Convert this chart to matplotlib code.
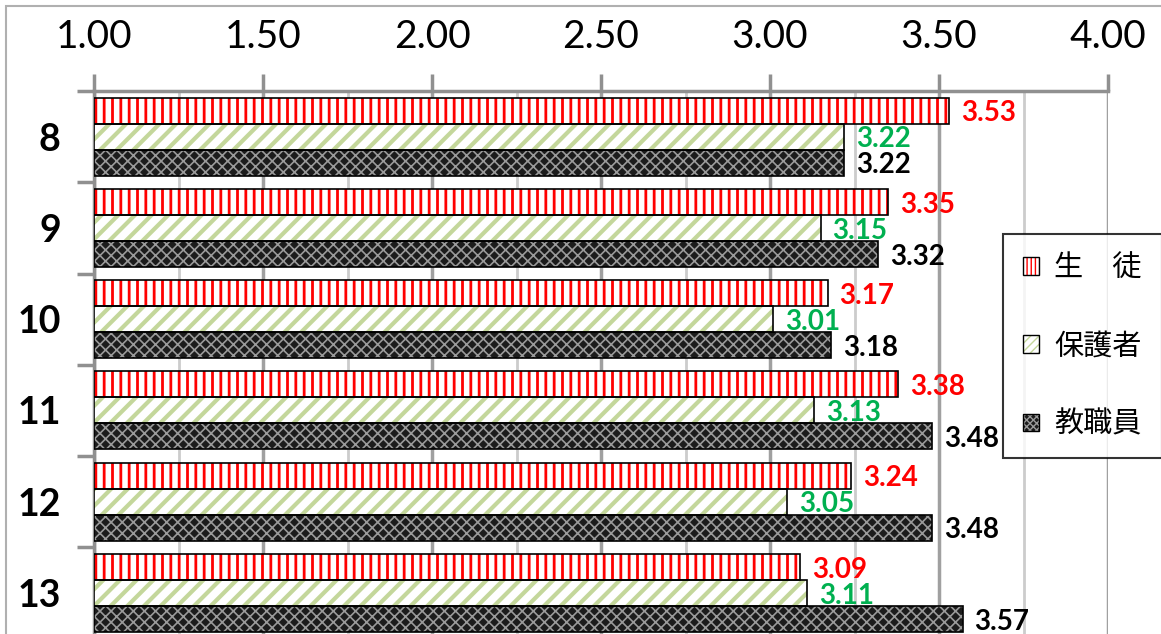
"""Horizontal grouped bar chart: 生徒 / 保護者 / 教職員 scores per item."""

import matplotlib

matplotlib.use("Agg")
import matplotlib.pyplot as plt
import numpy as np
from matplotlib.patches import Patch, Rectangle

plt.rcParams["font.family"] = ["Lato", "Noto Sans CJK JP", "DejaVu Sans"]

categories = ["8", "9", "10", "11", "12", "13"]
students = [3.53, 3.35, 3.17, 3.38, 3.24, 3.09]
parents = [3.22, 3.15, 3.01, 3.13, 3.05, 3.11]
staff = [3.22, 3.32, 3.18, 3.48, 3.48, 3.57]
series_names = ["生\u3000徒", "保護者", "教職員"]

x_min, x_max = 1.0, 4.0
bar_h = 0.285

fig = plt.figure(figsize=(11.61, 6.34), dpi=100)
ax = fig.add_axes([0.081, -0.0073, 0.8734, 0.8638])

# outer chart frame (cropped at the right/bottom)
fig.patches.append(Rectangle((6 / 1161, -0.1), 1.2, 1 - 6 / 634 + 0.1,
                             transform=fig.transFigure, fill=False,
                             edgecolor="#b0b0b0", linewidth=1.5))

y = np.arange(len(categories))
styles = [
    dict(face="white", hatch="||", leg_hatch="||||", hcolor="#ff0000", hlw=2.0,
         label_color="#ff0000"),
    dict(face="white", hatch="//", leg_hatch="////", hcolor="#c4d79b", hlw=3.0,
         label_color="#00b050"),
    dict(face="#1c1c1c", hatch="xxx", leg_hatch="xxxxx", hcolor="#9a9a9a", hlw=1.2,
         label_color="black"),
]
series = [students, parents, staff]

for i, (vals, st) in enumerate(zip(series, styles)):
    pos = y - bar_h + i * bar_h
    left = [x_min] * len(vals)
    widths = [v - x_min for v in vals]
    with plt.rc_context({"hatch.linewidth": st["hlw"]}):
        ax.barh(pos, widths, left=left, height=bar_h, color=st["face"],
                hatch=st["hatch"], edgecolor=st["hcolor"], linewidth=0, zorder=3)
    ax.barh(pos, widths, left=left, height=bar_h, fill=False,
            edgecolor="black", linewidth=1.2, zorder=4)
    for p, v in zip(pos, vals):
        ax.text(v + 0.035, p + 0.03, f"{v:.2f}", color=st["label_color"],
                fontsize=20, fontweight="bold", va="center", ha="left",
                zorder=5, clip_on=False)

ax.set_xlim(x_min, x_max)
ax.set_ylim(len(categories) - 0.5, -0.5)

ax.xaxis.tick_top()
ax.set_xticks(np.arange(1.0, 4.01, 0.5))
ax.set_xticklabels([f"{t:.2f}" for t in np.arange(1.0, 4.01, 0.5)], fontsize=28)
ax.set_xticks(np.arange(1.25, 4.0, 0.5), minor=True)
ax.tick_params(axis="x", which="major", length=12, width=2.5, color="#909090",
               pad=14)
ax.tick_params(axis="x", which="minor", length=0)
ax.grid(axis="x", which="major", color="#a0a0a0", linewidth=2.5, zorder=0)
ax.grid(axis="x", which="minor", color="#cccccc", linewidth=2, zorder=0)

ax.set_yticks(y)
ax.set_yticklabels(categories, fontsize=27, fontweight="bold")
ax.tick_params(axis="y", which="major", length=0, pad=24)
ax.set_yticks(np.arange(-0.5, len(categories), 1.0), minor=True)
ax.tick_params(axis="y", which="minor", length=12, width=2.5, color="#909090")

for side in ["right", "bottom"]:
    ax.spines[side].set_visible(False)
for side in ["top", "left"]:
    ax.spines[side].set_color("#909090")
    ax.spines[side].set_linewidth(2.5)

handles = []
for st in styles:
    with plt.rc_context({"hatch.linewidth": st["hlw"]}):
        fill = Patch(facecolor=st["face"], hatch=st["leg_hatch"],
                     edgecolor=st["hcolor"], linewidth=0)
    outline = Patch(fill=False, edgecolor="black", linewidth=1.0)
    handles.append((fill, outline))
leg = fig.legend(handles, series_names, loc="upper left",
                 bbox_to_anchor=(1003 / 1161, 1 - 234 / 634), fontsize=21,
                 frameon=True, fancybox=False, edgecolor="black",
                 handlelength=0.55, handleheight=0.55, labelspacing=1.75,
                 borderpad=0.7, handletextpad=0.5, borderaxespad=0)
leg.get_frame().set_linewidth(1.5)
leg.set_zorder(10)

fig.savefig("out.png", dpi=100)
